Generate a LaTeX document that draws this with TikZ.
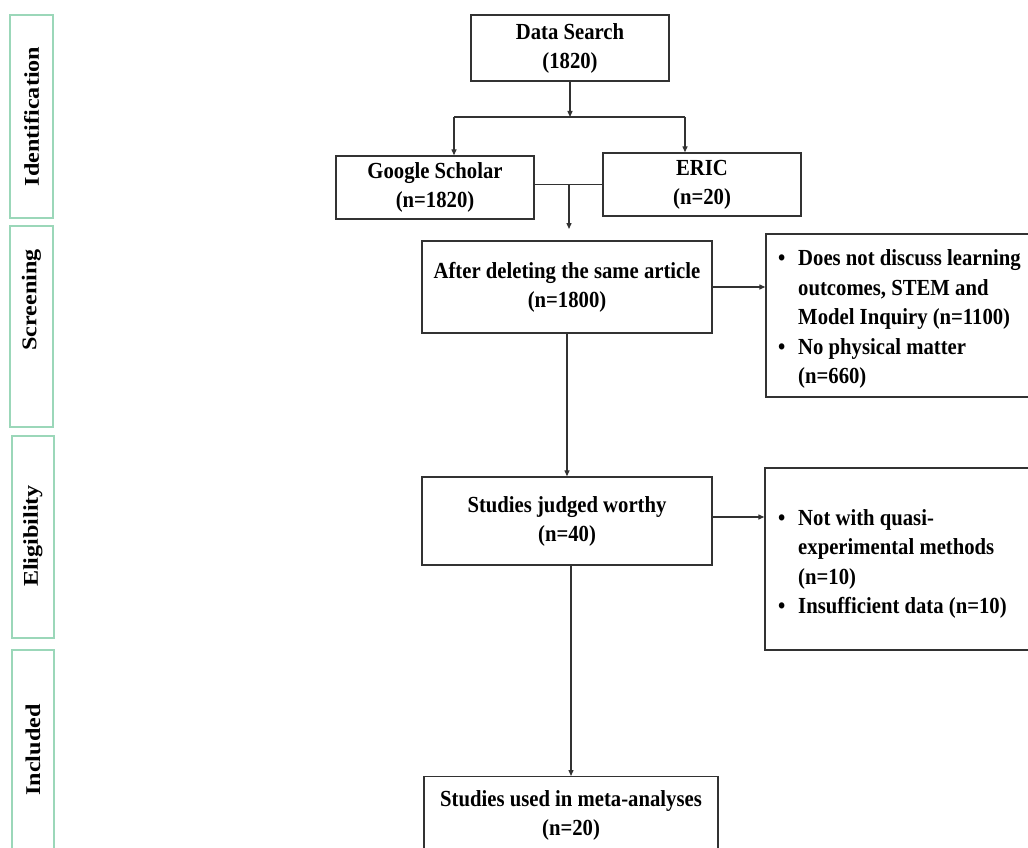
\documentclass[tikz,border=0pt]{standalone}
\usepackage{fontspec}
\setmainfont{Liberation Serif}[FakeStretch=0.9]
\newfontfamily\labelfont{Liberation Serif}[FakeStretch=1.15]
\usetikzlibrary{arrows.meta}
\definecolor{sidegreen}{RGB}{155,215,185}
\definecolor{edge}{RGB}{50,50,50}
\begin{document}
\begin{tikzpicture}[x=1pt,y=-1pt,
  box/.style={draw=edge,line width=1.4pt,align=center,inner sep=0pt,
    font=\fontsize{23}{29}\selectfont\bfseries},
  listbox/.style={draw=edge,line width=1.4pt,inner sep=0pt},
  listtext/.style={align=left,inner sep=0pt,anchor=west,
    font=\fontsize{23}{29.5}\selectfont\bfseries},
  side/.style={draw=sidegreen,line width=1.6pt,inner sep=0pt,rotate=90},
  sidetext/.style={inner sep=0pt,rotate=90,
    font=\labelfont\fontsize{21}{22}\selectfont\bfseries},
  conn/.style={line width=1.3pt,draw=edge},
  arr/.style={conn,-{Triangle[length=6pt,width=5pt]}}]
\useasboundingbox (0,0) rectangle (1028,848);
\begin{scope}
\clip (0,0) rectangle (1028,848);
% phase labels
\node[side,minimum width=203,minimum height=43] (lid) at (31.5,116.5) {};
\node[sidetext] (lidt) at (31.5,116.5) {Identification};
\node[side,minimum width=201,minimum height=43] (lsc) at (31.5,326.5) {};
\node[sidetext] (lsct) at (31.5,300) {Screening};
\node[side,minimum width=202,minimum height=42] (lel) at (33,537) {};
\node[sidetext] (lelt) at (33,536) {Eligibility};
\node[side,minimum width=220,minimum height=42] (lin) at (33,760) {};
\node[sidetext] (lint) at (33,750) {Included};
% main boxes
\node[box,minimum width=198,minimum height=66] (ds) at (570,48) {Data Search\\(1820)};
\node[box,minimum width=198,minimum height=63] (gs) at (435,187.5) {Google Scholar\\(n=1820)};
\node[box,minimum width=198,minimum height=63] (eric) at (702,184.5) {ERIC\\(n=20)};
\node[box,minimum width=290,minimum height=92] (del) at (567,287) {After deleting the same article\\(n=1800)};
\node[box,minimum width=290,minimum height=88] (worthy) at (567,521) {Studies judged worthy\\(n=40)};
\node[box,minimum width=294,minimum height=100,anchor=north] (used) at (571,776) {\rule{0pt}{30pt}Studies used in meta-analyses\\(n=20)\\[14pt]\mbox{}};
% exclusion boxes
\node[listbox,minimum width=274,minimum height=163] (ex1) at (903,315.5) {};
\node[listtext] (ex1t) at (778,319) {%
  \makebox[20pt][l]{\textbullet}Does not discuss learning\\
  \hspace*{20pt}outcomes, STEM and\\
  \hspace*{20pt}Model Inquiry (n=1100)\\
  \makebox[20pt][l]{\textbullet}No physical matter\\
  \hspace*{20pt}(n=660)};
\node[listbox,minimum width=275,minimum height=182] (ex2) at (902.5,559) {};
\node[listtext] (ex2t) at (778,564) {%
  \makebox[20pt][l]{\textbullet}Not with quasi-\\
  \hspace*{20pt}experimental methods\\
  \hspace*{20pt}(n=10)\\
  \makebox[20pt][l]{\textbullet}Insufficient data (n=10)};
% connectors
\coordinate (split) at (570,117);
\coordinate (hl) at (454,117);
\coordinate (hr) at (685,117);
\coordinate (mj) at (569,184.5);
\coordinate (mtip) at (569,229);
\draw[arr] (ds.south) -- (split);
\draw[conn] (hl) -- (hr);
\draw[arr] (hl) -- (hl |- gs.north);
\draw[arr] (hr) -- (hr |- eric.north);
\draw[conn] (eric.west -| gs.east) -- (eric.west);
\draw[arr] (mj) -- (mtip);
\draw[arr] (del.east) -- (del.east -| ex1.west);
\draw[arr] (del.south) -- (worthy.north);
\draw[arr] ([yshift=4pt]worthy.east) -- ([yshift=4pt]worthy.east -| ex2.west);
\draw[arr] (worthy.south -| used.north) -- (used.north);
\end{scope}
\end{tikzpicture}
\end{document}
